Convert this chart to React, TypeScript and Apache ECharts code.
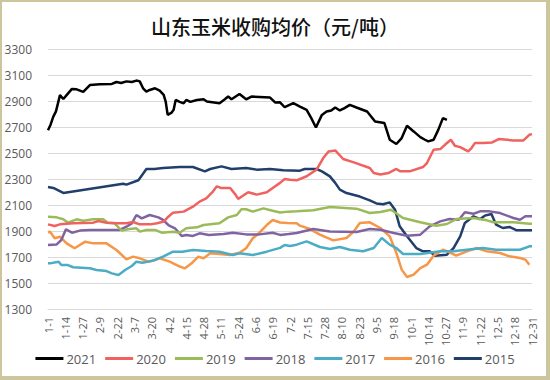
import React, { useEffect, useRef } from "react";
import * as echarts from "echarts";

const seriesNames = ["2021", "2020", "2019", "2018", "2017", "2016", "2015"];
const seriesColors = ["#000000", "#F0625F", "#9BBB59", "#8064A2", "#4BACC6", "#F79646", "#213F6A"];

const yTicks = { min: 1300, max: 3300, step: 200 };

const s2021: [number, number][] = [
  [0, 2675], [2, 2720], [4, 2780], [6, 2820], [9, 2945], [11.5, 2915], [14, 2945], [18, 2993], [21.5, 2990],
  [26.5, 2970], [31.5, 3023], [39, 3028], [48, 3031], [51.5, 3046], [55, 3039], [59, 3051], [63, 3046],
  [66.5, 3057], [69, 3051], [71.5, 2998], [74, 2972], [76.5, 2985], [80.5, 2998], [84, 2980], [87, 2947],
  [88.5, 2896], [90, 2793], [93, 2811], [94.5, 2832], [96, 2908], [99, 2893], [102, 2883], [104, 2908],
  [107, 2893], [112, 2908], [117, 2913], [119.5, 2896], [129, 2883], [133, 2913], [135.5, 2934], [138, 2913],
  [144, 2954], [149, 2913], [153, 2934], [167, 2926], [171, 2888], [174.5, 2890], [178, 2852], [184.5, 2883],
  [189.5, 2857], [194.5, 2832], [198, 2768], [201.5, 2696], [206, 2793], [209.5, 2819], [213, 2827],
  [216, 2850], [219.5, 2827], [223, 2845], [227, 2870], [232, 2850], [240, 2819], [243, 2781], [246, 2742],
  [253, 2730], [257, 2602], [262, 2569], [266, 2615], [270, 2709], [275, 2666], [280, 2622], [283.5, 2602],
  [286, 2589], [290, 2602], [293.5, 2678], [297, 2768], [300, 2755],
];

const s2020: [number, number][] = [
  [0, 1951], [5, 1938], [9, 1951], [19, 1959], [34, 1964], [38, 1977], [44, 1964], [52, 1959], [59, 1959],
  [64, 1969], [69, 1951], [77, 1951], [82, 1959], [87, 1972], [90.5, 2010], [94, 2041], [102, 2049],
  [109, 2087], [114, 2126], [119, 2151], [124, 2203], [127, 2244], [130, 2231], [137, 2231], [141, 2180],
  [143, 2147], [146, 2167], [150.5, 2198], [157, 2180], [164.5, 2198], [169, 2231], [174.5, 2270], [178, 2300],
  [182, 2295], [187, 2290], [194.5, 2321], [202, 2372], [207, 2461], [211, 2512], [216, 2520], [222, 2454],
  [230, 2428], [242, 2385], [245, 2346], [250, 2334], [256, 2346], [262, 2377], [265, 2359], [272, 2359],
  [282, 2392], [285, 2423], [290, 2525], [295, 2530], [298.5, 2563], [303, 2602], [306, 2556], [310, 2545],
  [316, 2512], [318.5, 2538], [321, 2576], [327, 2576], [334, 2581], [339, 2607], [350, 2597], [357.5, 2597],
  [362, 2640], [364, 2645],
];

const s2019: [number, number][] = [
  [0, 2010], [6.5, 2005], [11.5, 1990], [15, 1964], [21.5, 1990], [26.5, 1979], [34, 1990], [41.5, 1990],
  [45, 1964], [50, 1959], [55.5, 1903], [60, 1913], [66.5, 1921], [69, 1895], [74, 1908], [80.5, 1908],
  [85.5, 1887], [94, 1895], [99, 1887], [104, 1921], [112, 1928], [117, 1946], [129, 1959], [135.5, 2005],
  [142, 2023], [145.5, 2067], [149, 2067], [154, 2049], [162, 2074], [169, 2056], [174.5, 2043], [180.5, 2049],
  [187, 2051], [199.5, 2059], [212, 2085], [232, 2072], [242, 2038], [250, 2046], [258, 2064], [267, 2000],
  [280, 1967], [292, 1941], [300, 1954], [307, 1992], [320, 2000], [330, 1982], [335, 1967], [350, 1967],
  [362, 1956], [364, 1955],
];

const s2018: [number, number][] = [
  [0, 1792], [6.5, 1797], [10, 1831], [13.5, 1913], [18, 1887], [24, 1903], [31.5, 1908], [44, 1908],
  [54, 1908], [59, 1933], [63, 1959], [66.5, 2023], [70.5, 1997], [76.5, 2023], [83, 2005], [86.5, 1985],
  [90.5, 1946], [95.5, 1921], [100.5, 1862], [104, 1869], [109, 1862], [114, 1882], [121, 1869], [132, 1877],
  [139, 1887], [149, 1874], [159, 1874], [169, 1887], [174.5, 1870], [181, 1877], [187, 1885], [199.5, 1915],
  [212, 1897], [232, 1892], [242, 1915], [250, 1910], [260, 1885], [270, 1864], [280, 1872], [287, 1936],
  [295, 1974], [302, 1992], [309, 1987], [313.5, 2044], [320, 2033], [325, 2051], [332, 2051], [340, 2038],
  [350, 2000], [355, 1987], [359, 2013], [364, 2013],
];

const s2017: [number, number][] = [
  [0, 1651], [1.5, 1651], [8, 1664], [10, 1638], [15, 1638], [19, 1621], [31.5, 1613], [36.5, 1600],
  [44, 1592], [48, 1574], [53, 1562], [58, 1600], [63, 1631], [66.5, 1664], [71, 1656], [79, 1672],
  [86.5, 1703], [94, 1741], [101, 1741], [109, 1754], [119, 1746], [129, 1741], [139, 1715], [144, 1728],
  [154, 1715], [164.5, 1741], [174.5, 1770], [178, 1792], [182, 1785], [187, 1795], [194.5, 1820],
  [204.5, 1777], [212, 1762], [219.5, 1777], [227, 1756], [237, 1744], [245, 1769], [251, 1846], [257, 1795],
  [262, 1769], [267, 1723], [280, 1723], [295, 1744], [305, 1744], [315, 1756], [327, 1769], [337, 1756],
  [355, 1756], [362, 1782], [364, 1782],
];

const s2016: [number, number][] = [
  [0, 1890], [1.5, 1895], [5, 1844], [9, 1856], [14, 1805], [20, 1767], [28, 1818], [34, 1805], [44, 1805],
  [51.5, 1754], [59, 1682], [64, 1703], [69, 1690], [75.5, 1664], [80.5, 1677], [84, 1690], [91.5, 1664],
  [98, 1631], [103, 1613], [108, 1651], [113, 1703], [117, 1690], [122, 1728], [129, 1723], [137, 1715],
  [144, 1733], [149, 1767], [154, 1844], [159, 1887], [164.5, 1946], [169, 1985], [174.5, 1965], [180, 1962],
  [187, 1960], [189.5, 1941], [197, 1915], [204.5, 1872], [214.5, 1828], [224.5, 1846], [230, 1897],
  [234.5, 1962], [242, 1967], [250, 1923], [257, 1859], [262, 1731], [266, 1603], [270, 1546], [275, 1564],
  [280, 1615], [285, 1641], [290, 1710], [297, 1756], [302, 1736], [307, 1710], [315, 1744], [322.5, 1769],
  [330, 1744], [340, 1731], [347, 1705], [355, 1692], [359, 1680], [362, 1641],
];

const s2015: [number, number][] = [
  [0, 2239], [4, 2231], [11.5, 2193], [56.5, 2264], [59, 2257], [68, 2290], [74, 2377], [80, 2377],
  [86.5, 2385], [99, 2392], [109, 2392], [118, 2359], [122, 2377], [130.5, 2397], [138, 2377], [149, 2385],
  [157, 2372], [167, 2377], [177, 2367], [189.5, 2364], [193, 2377], [202, 2377], [206, 2359], [212, 2320],
  [216, 2270], [219.5, 2218], [224.5, 2192], [234.5, 2165], [242, 2135], [247, 2112], [252, 2106],
  [257, 2120], [261, 2064], [264.5, 1936], [270, 1859], [277, 1769], [282, 1744], [287, 1744], [291, 1710],
  [300, 1718], [305, 1769], [310, 1859], [313.5, 1962], [320, 2013], [325, 1992], [328.5, 2018],
  [333.5, 2031], [337, 1949], [342, 1923], [347, 1931], [352.5, 1905], [364, 1905],
];

const seriesData = [s2021, s2020, s2019, s2018, s2017, s2016, s2015];

const monthDays = [31, 28, 31, 30, 31, 30, 31, 31, 30, 31, 30, 31];
const dayLabel = (d: number) => {
  let rem = Math.round(d);
  let m = 0;
  while (m < 11 && rem >= monthDays[m]) {
    rem -= monthDays[m];
    m++;
  }
  return `${m + 1}-${rem + 1}`;
};

export default function App() {
  const ref = useRef<HTMLDivElement>(null);
  useEffect(() => {
    document.body.style.margin = "0";
    if (!ref.current) return;
    const chart = echarts.init(ref.current, undefined, { renderer: "svg" });
    chart.setOption({
      animation: false,
      backgroundColor: "#ffffff",
      title: {
        text: "山东玉米收购均价（元/吨）",
        left: "center",
        top: 11,
        textStyle: {
          fontFamily: "Noto Sans CJK SC",
          fontSize: 20,
          fontWeight: 500,
          color: "#111111",
        },
      },
      grid: { left: 48, right: 18, top: 49, bottom: 71 },
      legend: {
        bottom: 10,
        left: "center",
        icon: "rect",
        itemWidth: 28,
        itemHeight: 3,
        itemGap: 9,
        textStyle: { fontFamily: "Open Sans", fontSize: 13, color: "#595959", padding: [0, 0, 0, -2] },
        data: seriesNames,
      },
      xAxis: {
        type: "value",
        min: 0,
        max: 364,
        interval: 13,
        axisLine: { show: true, lineStyle: { color: "#D9D9D9" } },
        axisTick: { show: false },
        splitLine: { show: false },
        axisLabel: {
          rotate: 90,
          margin: 8,
          fontFamily: "Open Sans",
          fontSize: 11,
          color: "#595959",
          showMinLabel: true,
          showMaxLabel: true,
          formatter: (v: number) => dayLabel(v),
        },
      },
      yAxis: {
        type: "value",
        min: yTicks.min,
        max: yTicks.max,
        interval: yTicks.step,
        axisLine: { show: false },
        axisTick: { show: false },
        splitLine: { lineStyle: { color: "#D9D9D9" } },
        axisLabel: {
          margin: 16,
          fontFamily: "Open Sans",
          fontSize: 12,
          color: "#595959",
          formatter: (v: number) => String(v),
        },
      },
      series: seriesNames.map((name, i) => ({
        name,
        type: "line",
        data: seriesData[i],
        showSymbol: false,
        symbol: "none",
        color: seriesColors[i],
        lineStyle: { width: 2.5, color: seriesColors[i] },
        z: 10 - i,
      })),
    });
    return () => chart.dispose();
  }, []);
  return (
    <div style={{ position: "relative", width: 550, height: 380 }}>
      <div ref={ref} style={{ width: 550, height: 380 }} />
      <div
        style={{
          position: "absolute",
          left: 0,
          top: 0,
          width: 550,
          height: 380,
          boxSizing: "border-box",
          borderLeft: "2px solid #CDC59E",
          borderTop: "2px solid #CDC59E",
          borderRight: "4px solid #CDC59E",
          borderBottom: "4px solid #CDC59E",
          pointerEvents: "none",
        }}
      />
    </div>
  );
}
